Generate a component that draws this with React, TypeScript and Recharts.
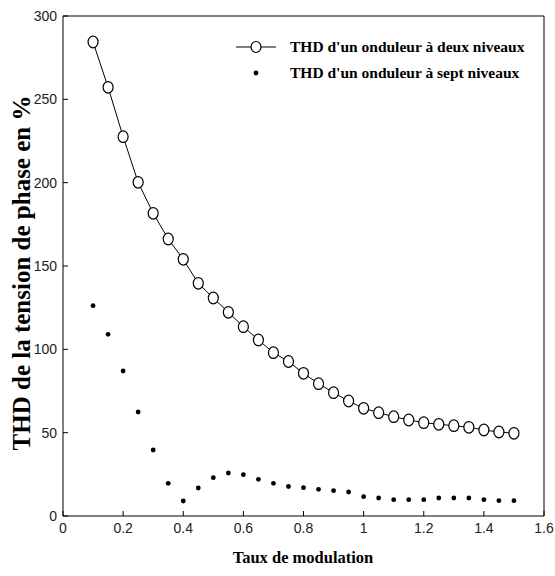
import { ScatterChart, Scatter, XAxis, YAxis, Legend } from 'recharts';

// taux de modulation
const tauxModulation = [
  0.1, 0.15, 0.2, 0.25, 0.3, 0.35, 0.4, 0.45, 0.5, 0.55, 0.6, 0.65, 0.7, 0.75, 0.8,
  0.85, 0.9, 0.95, 1.0, 1.05, 1.1, 1.15, 1.2, 1.25, 1.3, 1.35, 1.4, 1.45, 1.5,
];

// THD (%) onduleur à deux niveaux
const thdDeuxNiveaux = [
  284.4, 257.2, 227.6, 200.2, 181.6, 166.2, 154, 139.6, 130.8, 122.2, 113.6, 105.6, 98, 92.7, 85.6,
  79.4, 74, 69, 64.6, 62, 59.6, 57.6, 56, 55, 54.2, 53.2, 51.6, 50.4, 49.6,
];

// THD (%) onduleur à sept niveaux
const thdSeptNiveaux = [
  126.2, 109, 87, 62.4, 39.6, 19.6, 9, 16.8, 23, 25.8, 24.8, 22, 19.6, 17.7, 17,
  16, 15.2, 14.4, 11.6, 10.8, 9.8, 9.8, 9.8, 10.8, 10.8, 10.8, 9.8, 9.2, 9.2,
];

const xTicks = [0, 0.2, 0.4, 0.6, 0.8, 1, 1.2, 1.4, 1.6];
const yTicks = [0, 50, 100, 150, 200, 250, 300];

const legendLabels = ["THD d'un onduleur à deux niveaux", "THD d'un onduleur à sept niveaux"];

const deuxData = tauxModulation.map((x, i) => ({ x, y: thdDeuxNiveaux[i] }));
const septData = tauxModulation.map((x, i) => ({ x, y: thdSeptNiveaux[i] }));

const tickFont = { fontFamily: '"Liberation Sans Narrow", "Liberation Sans", Arial, sans-serif', fontSize: 14, fill: '#222' };
const serif = '"Liberation Serif", "Times New Roman", serif';

const OpenCircle = (props: any) => (
  <ellipse cx={props.cx} cy={props.cy} rx={5} ry={5.8} fill="white" stroke="black" strokeWidth={1.2} />
);

const SmallDot = (props: any) => <circle cx={props.cx} cy={props.cy} r={2.4} fill="black" />;

const LegendBox = () => (
  <svg width={320} height={56}>
    <line x1={4} y1={10} x2={44} y2={10} stroke="black" strokeWidth={1} />
    <ellipse cx={24} cy={10} rx={5} ry={5.5} fill="white" stroke="black" strokeWidth={1.2} />
    <text x={58} y={15} fontFamily={serif} fontWeight="bold" fontSize={15.5} fill="black">{legendLabels[0]}</text>
    <circle cx={24} cy={36} r={2.4} fill="black" />
    <text x={58} y={41} fontFamily={serif} fontWeight="bold" fontSize={15.5} fill="black">{legendLabels[1]}</text>
  </svg>
);

export default function App() {
  return (
    <div style={{ position: 'absolute', left: 0, top: 0, width: 555, height: 576, background: 'white' }}>
      <ScatterChart width={555} height={576} margin={{ top: 15, right: 10, bottom: 10, left: 0 }}>
        <XAxis
          type="number"
          dataKey="x"
          domain={[0, 1.6]}
          ticks={xTicks}
          height={50}
          tickSize={-5}
          tickMargin={12}
          tick={tickFont}
          stroke="black"
          label={{
            content: () => (
              <text x={303} y={563} textAnchor="middle" fontFamily={serif} fontWeight="bold" fontSize={16.5} fill="black">
                Taux de modulation
              </text>
            ),
          }}
        />
        <XAxis
          xAxisId="top"
          orientation="top"
          type="number"
          dataKey="x"
          domain={[0, 1.6]}
          ticks={xTicks}
          height={1}
          tickSize={-5}
          tickFormatter={() => ''}
          stroke="black"
        />
        <YAxis
          type="number"
          dataKey="y"
          domain={[0, 300]}
          ticks={yTicks}
          width={63}
          tickSize={-5}
          tickMargin={11}
          tick={tickFont}
          stroke="black"
          label={{
            content: () => (
              <text
                x={0}
                y={0}
                transform="translate(30, 273) rotate(-90)"
                textAnchor="middle"
                fontFamily={serif}
                fontWeight="bold"
                fontSize={25}
                fill="black"
              >
                THD de la tension de phase en %
              </text>
            ),
          }}
        />
        <YAxis
          yAxisId="right"
          orientation="right"
          type="number"
          dataKey="y"
          domain={[0, 300]}
          ticks={yTicks}
          width={1}
          tickSize={-5}
          tickFormatter={() => ''}
          stroke="black"
        />
        <Legend
          layout="horizontal"
          verticalAlign="middle"
          align="center"
          wrapperStyle={{ position: 'absolute', top: 37, left: 232, width: 320 }}
          content={() => <LegendBox />}
        />
        <Scatter
          name={legendLabels[0]}
          data={deuxData}
          line={{ stroke: 'black', strokeWidth: 1 }}
          lineType="joint"
          shape={OpenCircle}
          isAnimationActive={false}
        />
        <Scatter name={legendLabels[1]} data={septData} shape={SmallDot} isAnimationActive={false} />
      </ScatterChart>
    </div>
  );
}
